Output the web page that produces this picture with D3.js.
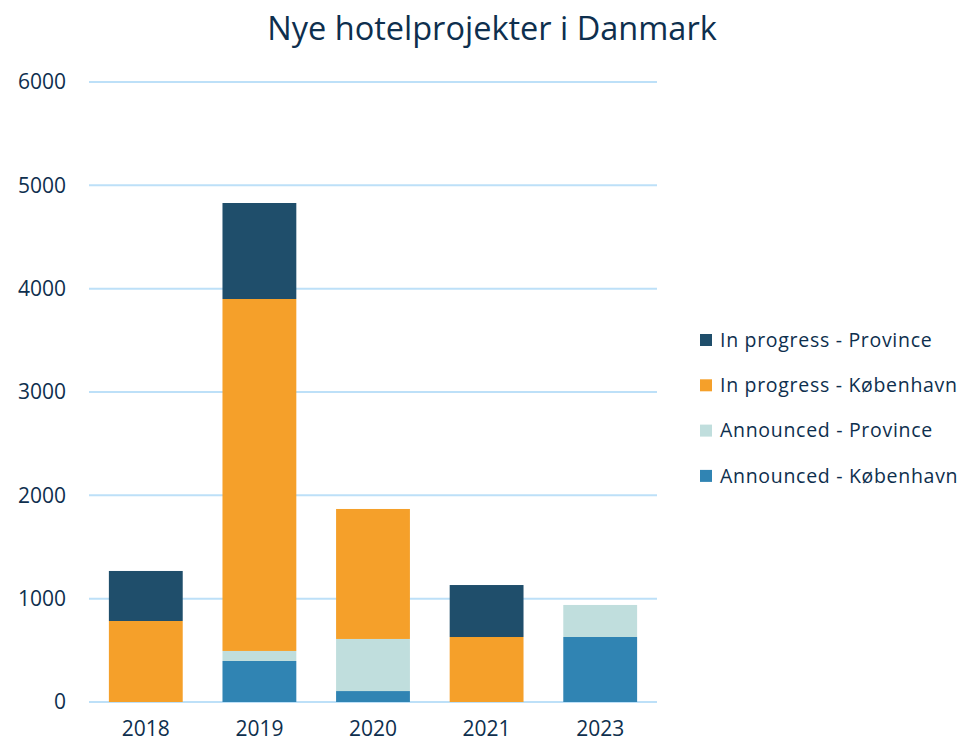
<!DOCTYPE html>
<html>
<head>
<meta charset="utf-8">
<script src="https://cdn.jsdelivr.net/npm/d3@7"></script>
<style>
  body { margin: 0; background: #fff; }
  text { font-family: "Open Sans", "Noto Sans", sans-serif; fill: #0E2F4E; }
</style>
</head>
<body>
<div id="container"></div>
<script>
/* DATA */
const years = ["2018", "2019", "2020", "2021", "2023"];
const announcedKbh = [0, 397, 106, 0, 629];
const announcedProvince = [0, 97, 504, 0, 310];
const inProgressKbh = [784, 3406, 1258, 629, 0];
const inProgressProvince = [484, 929, 0, 503, 0];
const yTicks = [0, 1000, 2000, 3000, 4000, 5000, 6000];

const series = [
  {key: "Announced - København", values: announcedKbh, color: "#3084B3"},
  {key: "Announced - Province", values: announcedProvince, color: "#C0DEDD"},
  {key: "In progress - København", values: inProgressKbh, color: "#F5A02A"},
  {key: "In progress - Province", values: inProgressProvince, color: "#1F4E6B"}
];

const width = 963, height = 743;
const margin = {top: 82, bottom: 41, left: 89, right: 306};

const rows = years.map((y, i) => {
  const r = {year: y};
  series.forEach(s => r[s.key] = s.values[i]);
  return r;
});
const stacked = d3.stack().keys(series.map(s => s.key))(rows);

const svg = d3.select("#container").append("svg")
  .attr("width", width).attr("height", height);

const xScale = d3.scaleBand()
  .domain(years)
  .range([margin.left, width - margin.right])
  .paddingInner(0.35).paddingOuter(0.175);

const yScale = d3.scaleLinear()
  .domain([0, 6000])
  .range([height - margin.bottom, margin.top]);

// gridlines
svg.selectAll(".grid")
  .data(yTicks)
  .join("line")
  .attr("class", "grid")
  .attr("x1", margin.left).attr("x2", width - margin.right)
  .attr("y1", d => yScale(d)).attr("y2", d => yScale(d))
  .attr("stroke", "#BDE0F8").attr("stroke-width", 2);

// y labels
svg.selectAll(".ylab")
  .data(yTicks)
  .join("text")
  .attr("class", "ylab")
  .attr("x", 66)
  .attr("y", d => yScale(d))
  .attr("dy", "0.35em")
  .attr("text-anchor", "end")
  .style("font-size", "21px")
  .text(d => d);

// bars
svg.selectAll(".layer")
  .data(stacked)
  .join("g")
  .attr("class", "layer")
  .attr("fill", (d, i) => series[i].color)
  .selectAll("rect")
  .data(d => d)
  .join("rect")
  .attr("x", d => xScale(d.data.year))
  .attr("width", xScale.bandwidth())
  .attr("y", d => yScale(d[1]))
  .attr("height", d => yScale(d[0]) - yScale(d[1]));

// x labels
svg.selectAll(".xlab")
  .data(years)
  .join("text")
  .attr("class", "xlab")
  .attr("x", d => xScale(d) + xScale.bandwidth() / 2)
  .attr("y", 736)
  .attr("text-anchor", "middle")
  .style("font-size", "21px")
  .text(d => d);

// title
svg.append("text")
  .attr("x", 492).attr("y", 40)
  .attr("text-anchor", "middle")
  .style("font-size", "32.5px")
  .text("Nye hotelprojekter i Danmark");

// legend
const legendItems = series.slice().reverse();
const legend = svg.selectAll(".legend")
  .data(legendItems)
  .join("g")
  .attr("class", "legend")
  .attr("transform", (d, i) => `translate(700, ${340 + i * 45.3})`);

legend.append("rect")
  .attr("x", 0).attr("y", -6)
  .attr("width", 12).attr("height", 12)
  .attr("fill", d => d.color);

legend.append("text")
  .attr("x", 20).attr("y", 0)
  .attr("dy", "0.35em")
  .style("font-size", "19.5px")
  .style("letter-spacing", "0.7px")
  .text(d => d.key);
</script>
</body>
</html>
